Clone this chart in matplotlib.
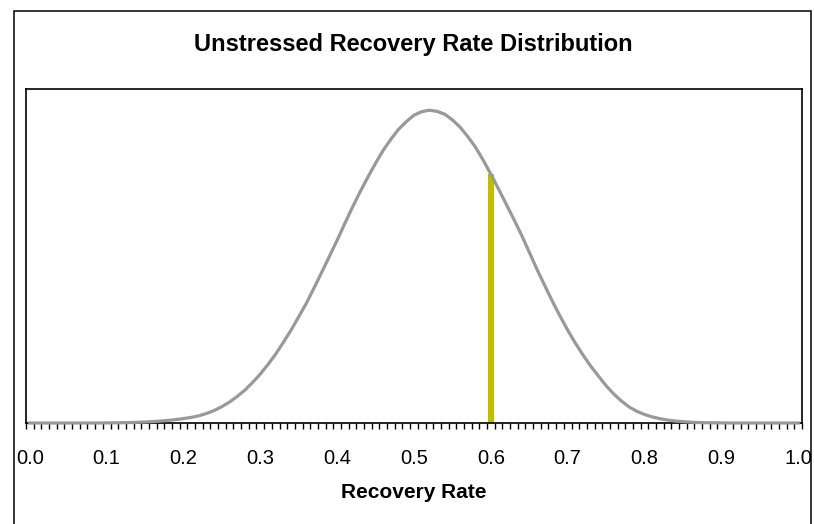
import matplotlib
matplotlib.use("Agg")
import matplotlib.pyplot as plt
from matplotlib.patches import Rectangle
from matplotlib.ticker import FixedLocator

plt.rcParams['font.family'] = ['Liberation Sans', 'DejaVu Sans']

#DATA-----------------------------------------------------------------------------------------------
# recovery rate categories (0.00 .. 1.00) and the density
recovery_rate = [round(0.01 * i, 2) for i in range(101)]
density = [0.000, 0.000, 0.000, 0.000, 0.000, 0.000, 0.000, 0.000, 0.000, 0.000,
           0.001, 0.002, 0.003, 0.005, 0.008, 0.011, 0.016, 0.022, 0.029, 0.038,
           0.049, 0.062, 0.080, 0.106, 0.139, 0.182, 0.233, 0.296, 0.366, 0.451,
           0.544, 0.651, 0.766, 0.896, 1.032, 1.180, 1.332, 1.502, 1.676, 1.853,
           2.031, 2.217, 2.398, 2.570, 2.731, 2.886, 3.030, 3.153, 3.263, 3.348,
           3.419, 3.458, 3.474, 3.462, 3.430, 3.367, 3.286, 3.181, 3.064, 2.920,
           2.764, 2.600, 2.431, 2.262, 2.087, 1.898, 1.709, 1.530, 1.354, 1.188,
           1.032, 0.887, 0.755, 0.632, 0.522, 0.415, 0.322, 0.244, 0.178, 0.130,
           0.095, 0.068, 0.048, 0.033, 0.022, 0.015, 0.009, 0.005, 0.003, 0.002,
           0.001, 0.000, 0.000, 0.000, 0.000, 0.000, 0.000, 0.000, 0.000, 0.000,
           0.000]
threshold = 0.60
tick_values = [0.0, 0.1, 0.2, 0.3, 0.4, 0.5, 0.6, 0.7, 0.8, 0.9, 1.0]
tick_labels = ["0.0", "0.1", "0.2", "0.3", "0.4", "0.5", "0.6", "0.7", "0.8", "0.9", "1.0"]

title = "Unstressed Recovery Rate Distribution"
x_title = "Recovery Rate"

#PLOT-----------------------------------------------------------------------------------------------
W, H = 814, 524
fig = plt.figure(figsize=(W / 100, H / 100), dpi=100)
ax = fig.add_axes([26 / W, (H - 423) / H, 776 / W, 334 / H])

threshold_height = density[recovery_rate.index(threshold)]
ax.vlines(threshold, 0, threshold_height, color='#BFBF00', lw=4.4, zorder=2)
ax.plot(recovery_rate, density, color='#999999', lw=2.3, zorder=3, clip_on=False)

ax.set_xlim(-0.005, 1.005)
ax.set_ylim(0, 3.71)
ax.set_yticks([])

# category style axis: labels at centres, small ticks between categories
ax.xaxis.set_major_locator(FixedLocator(tick_values))
ax.set_xticklabels(tick_labels)
ax.xaxis.set_minor_locator(FixedLocator([-0.005 + 0.01 * k for k in range(102)]))
ax.tick_params(axis='x', which='major', length=0, pad=18.4, labelsize=14.5)
ax.tick_params(axis='x', which='minor', length=4.3, width=1.0, color='black',
               direction='out')

for s in ax.spines.values():
    s.set_linewidth(1.2)
    s.set_color('black')

fig.text(414 / W, (H - 498.3) / H, x_title, ha='center', va='baseline',
         fontsize=15, fontweight='bold')
fig.text(413.5 / W, (H - 51) / H, title, ha='center', va='baseline',
         fontsize=17, fontweight='bold')

# outer chart border
fig.patches.append(Rectangle((14 / W, -0.05), (811 - 14) / W, (H - 11) / H + 0.05,
                             transform=fig.transFigure, fill=False, ec='black', lw=1.1))

fig.savefig("out.png", dpi=100)
